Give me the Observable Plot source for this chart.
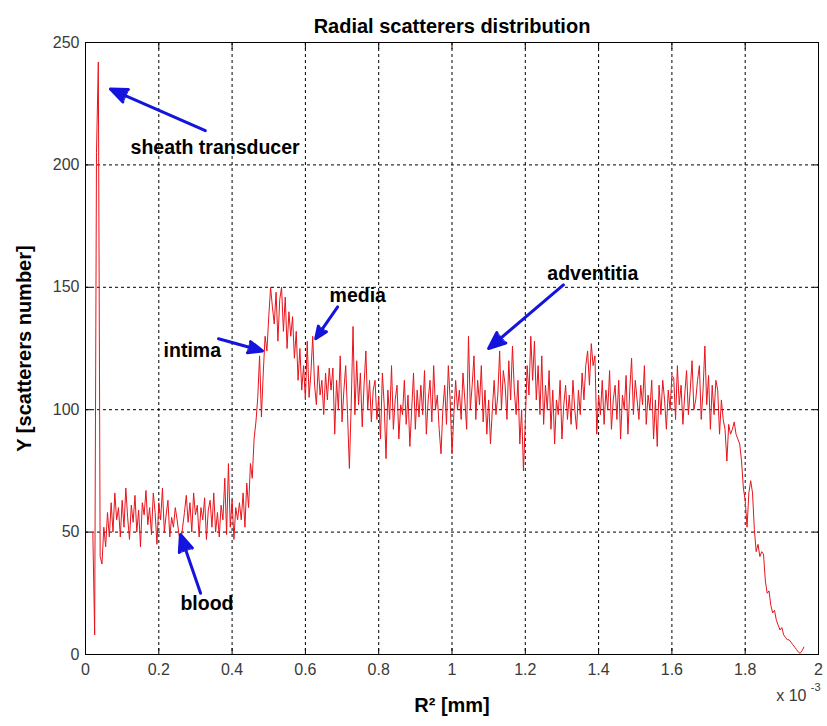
<!DOCTYPE html>
<html><head><meta charset="utf-8">
<script src="https://cdn.jsdelivr.net/npm/d3@7"></script>
<script src="https://cdn.jsdelivr.net/npm/@observablehq/plot@0.6"></script>
<style>
body{margin:0;background:#fff;}
#chart svg{font-family:"Liberation Sans",Arial,Helvetica,sans-serif;}
</style></head><body><div id="chart"></div>
<script>
// x values in units of 1e-3 mm^2, sampled every 0.005 starting at 0.02
const xStart = 0.02;
const xStep = 0.005;
const counts = [
  50, 8, 205, 242, 40, 37, 52, 44, 58, 48,
  62, 50, 66, 55, 60, 48, 63, 52, 68, 56,
  47, 61, 54, 65, 50, 59, 44, 62, 57, 67,
  53, 60, 49, 66, 58, 45, 62, 55, 68, 50,
  57, 63, 48, 56, 52, 60, 55, 49, 46, 52,
  58, 65, 54, 62, 50, 66, 57, 61, 48, 60,
  55, 64, 47, 59, 63, 52, 66, 50, 58, 48,
  61, 55, 72, 49, 78, 52, 63, 47, 60, 55,
  62, 55, 66, 52, 70, 60, 78, 72, 88, 95,
  105, 122, 97, 115, 130, 124, 138, 150, 142, 135,
  148, 128, 145, 150, 132, 146, 125, 140, 130, 138,
  121, 132, 112, 125, 108, 118, 104, 128, 105, 115,
  130, 110, 102, 118, 106, 112, 98, 115, 104, 117,
  108, 117, 90, 112, 100, 122, 95, 108, 118, 98,
  76, 102, 134, 98, 120, 102, 115, 93, 110, 124,
  100, 112, 95, 108, 112, 96, 105, 88, 115, 102,
  80, 108, 96, 118, 92, 104, 110, 88, 102, 98,
  112, 94, 106, 85, 100, 115, 92, 108, 97, 110,
  98, 116, 90, 104, 112, 95, 118, 100, 106, 92,
  82, 100, 110, 94, 118, 104, 82, 98, 112, 100,
  108, 96, 115, 104, 92, 130, 100, 110, 122, 96,
  112, 102, 118, 95, 108, 90, 104, 86, 100, 112,
  98, 106, 124, 100, 116, 110, 96, 120, 104, 126,
  108, 98, 112, 86, 100, 75, 95, 118, 106, 130,
  112, 128, 104, 118, 98, 122, 94, 110, 100, 116,
  92, 108, 86, 104, 98, 112, 88, 102, 110, 96,
  106, 94, 112, 100, 92, 108, 98, 115, 104, 118,
  124, 110, 127, 118, 122, 90, 106, 98, 112, 94,
  108, 100, 116, 92, 104, 110, 96, 112, 88, 106,
  100, 114, 90, 108, 121, 98, 112, 104, 96, 110,
  102, 118, 94, 106, 100, 112, 88, 104, 85, 110,
  98, 112, 104, 92, 108, 100, 114, 113, 96, 118,
  102, 110, 94, 106, 116, 98, 108, 120, 100, 104,
  112, 118, 96, 108, 126, 102, 114, 92, 110, 98,
  112, 108, 90, 104, 96, 92, 79, 94, 90, 92,
  95, 90, 88, 86, 79, 68, 63, 52, 66, 71,
  66, 51, 42, 45, 40, 42, 41, 30, 25, 26,
  20, 17, 18, 14, 12, 10, 11, 8, 7, 6,
  6, 5, 4, 3, 2, 1, 0.5, 1.5, 3
];
const xTicks = [0, 0.2, 0.4, 0.6, 0.8, 1, 1.2, 1.4, 1.6, 1.8, 2];
const yTicks = [0, 50, 100, 150, 200, 250];
const xGrid = [0.2, 0.4, 0.6, 0.8, 1, 1.2, 1.4, 1.6, 1.8];
const yGrid = [50, 100, 150, 200];

const annotLabels = ["sheath transducer", "intima", "media", "adventitia", "blood"];
const annotX = [0.123, 0.213, 0.666, 1.26, 0.259];
const annotY = [207, 124.2, 146.6, 155.6, 20.8];
const arrowFromX = [0.327, 0.363, 0.688, 1.304, 0.314];
const arrowFromY = [214, 129, 142, 151, 25];
const arrowToX = [0.068, 0.483, 0.628, 1.10, 0.259];
const arrowToY = [231, 124, 129, 125, 49];

const series = counts.map((v, i) => ({x: xStart + i * xStep, y: v}));
const annots = annotLabels.map((t, i) => ({t, x: annotX[i], y: annotY[i]}));
const arrows = annotLabels.map((t, i) => ({x1: arrowFromX[i], y1: arrowFromY[i], x2: arrowToX[i], y2: arrowToY[i]}));

const arrowColor = "#1414dc";
const tickColor = "#3a3a3a";
const chart = Plot.plot({
  width: 827, height: 726,
  marginLeft: 85, marginRight: 9, marginTop: 42, marginBottom: 72,
  x: {domain: [0, 2]},
  y: {domain: [0, 250]},
  style: {fontFamily: '"Liberation Sans", Arial, sans-serif', fontSize: "16px", color: "#333", background: "white", overflow: "visible"},
  marks: [
    Plot.gridX(xGrid, {stroke: "black", strokeOpacity: 1, strokeDasharray: "3,3", strokeWidth: 1}),
    Plot.gridY(yGrid, {stroke: "black", strokeOpacity: 1, strokeDasharray: "3,3", strokeWidth: 1}),
    Plot.axisX(xTicks, {tickSize: 0, tickPadding: 9, label: null, tickFormat: d => String(d), fontSize: 16, fill: tickColor}),
    Plot.axisY(yTicks, {tickSize: 0, tickPadding: 6, label: null, tickFormat: d => String(d), fontSize: 16, fill: tickColor}),
    Plot.axisX(xTicks, {anchor: "bottom", tickSize: -6, text: null, label: null, stroke: "black", strokeOpacity: 1}),
    Plot.axisX(xTicks, {anchor: "top", tickSize: -6, text: null, label: null, stroke: "black", strokeOpacity: 1}),
    Plot.axisY(yTicks, {anchor: "left", tickSize: -6, text: null, label: null, stroke: "black", strokeOpacity: 1}),
    Plot.axisY(yTicks, {anchor: "right", tickSize: -6, text: null, label: null, stroke: "black", strokeOpacity: 1}),
    Plot.line(series, {x: "x", y: "y", stroke: "#e8141c", strokeWidth: 1}),
    Plot.frame({stroke: "black", strokeWidth: 1}),
    Plot.arrow(arrows, {x1: "x1", y1: "y1", x2: "x2", y2: "y2", stroke: arrowColor, strokeWidth: 3, headLength: 9, headAngle: 45}),
    Plot.text(annots, {x: "x", y: "y", text: "t", textAnchor: "start", fontWeight: "bold", fontSize: 19.5, fill: "black"}),
    Plot.text(["Radial scatterers distribution"], {frameAnchor: "top", dy: -24, fontWeight: "bold", fontSize: 20, fill: "black"}),
    Plot.text(["Y [scatterers number]"], {frameAnchor: "left", textAnchor: "middle", dx: -61, rotate: -90, fontWeight: "bold", fontSize: 20, fill: "black"}),
    Plot.text(["R² [mm]"], {frameAnchor: "bottom", textAnchor: "middle", dy: 57, fontWeight: "bold", fontSize: 20, fill: "black"}),
    Plot.text(["x 10"], {frameAnchor: "bottom-right", dy: 46, dx: -12, textAnchor: "end", fontSize: 16, fill: tickColor}),
    Plot.text(["-3"], {frameAnchor: "bottom-right", dy: 36, dx: 2, textAnchor: "end", fontSize: 11, fill: tickColor})
  ]
});

// fill the arrow heads as solid triangles
d3.select(chart).selectAll('g[aria-label="arrow"] path').each(function () {
  const n = (this.getAttribute("d").match(/-?\d*\.?\d+(?:e[-+]?\d+)?/g) || []).map(Number);
  if (n.length >= 10) {
    const x2 = n[2], y2 = n[3], x3 = n[4], y3 = n[5], x4 = n[8], y4 = n[9];
    d3.select(this.parentNode).append("path")
      .attr("d", `M${x3},${y3}L${x2},${y2}L${x4},${y4}Z`)
      .attr("fill", arrowColor).attr("stroke", arrowColor).attr("stroke-width", 1)
      .attr("stroke-linejoin", "miter");
  }
});
document.getElementById("chart").appendChild(chart);
</script></body></html>
